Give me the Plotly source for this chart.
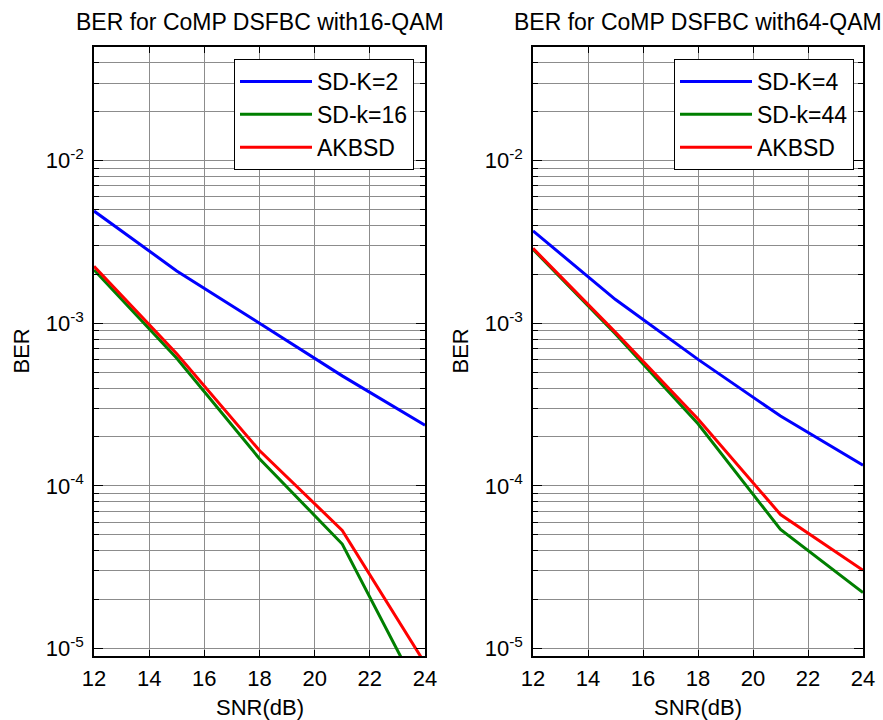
import plotly.graph_objects as go
import numpy as np

snr = [12, 15, 18, 21, 24]

# 16-QAM (left)
ber16_sd2 = [4.9e-3, 2.1e-3, 1.0e-3, 4.75e-4, 2.36e-4]
ber16_sd16 = [2.13e-3, 6.1e-4, 1.47e-4, 4.39e-5, 4.6e-6]
ber16_akbsd = [2.24e-3, 6.5e-4, 1.65e-4, 5.33e-5, 8.1e-6]

# 64-QAM (right)
ber64_sd4 = [3.70e-3, 1.40e-3, 6.0e-4, 2.69e-4, 1.34e-4]
ber64_sd44 = [2.85e-3, 8.6e-4, 2.41e-4, 5.4e-5, 2.21e-5]
ber64_akbsd = [2.89e-3, 8.8e-4, 2.58e-4, 6.67e-5, 3.03e-5]

names_left = ["SD-K=2", "SD-k=16", "AKBSD"]
names_right = ["SD-K=4", "SD-k=44", "AKBSD"]
titles = ["BER for CoMP DSFBC with16-QAM", "BER for CoMP DSFBC with64-QAM"]
x_ticks = [12, 14, 16, 18, 20, 22, 24]
y_major = [1e-5, 1e-4, 1e-3, 1e-2]
y_major_text = ["10<sup>-5</sup>", "10<sup>-4</sup>", "10<sup>-3</sup>", "10<sup>-2</sup>"]
y_minor = [m * 10.0 ** e for e in range(-6, -1) for m in range(2, 10)]

colors = ["#0000FF", "#007F00", "#FF0000"]
FONT = "Liberation Sans, Arial, sans-serif"

fig = go.Figure()

left_series = [ber16_sd2, ber16_sd16, ber16_akbsd]
right_series = [ber64_sd4, ber64_sd44, ber64_akbsd]

for ys, nm, c in zip(left_series, names_left, colors):
    fig.add_trace(go.Scatter(x=snr, y=ys, mode="lines", name=nm,
                             line=dict(color=c, width=3),
                             xaxis="x", yaxis="y", legend="legend"))
for ys, nm, c in zip(right_series, names_right, colors):
    fig.add_trace(go.Scatter(x=snr, y=ys, mode="lines", name=nm,
                             line=dict(color=c, width=3),
                             xaxis="x2", yaxis="y2", legend="legend2"))

W, H = 883, 720
xd1 = [94 / W, 425 / W]
xd2 = [533 / W, 863 / W]
yd = [(H - 656) / H, (H - 47) / H]

grid_col = "#8c8c8c"

def xaxis(domain, anchor):
    return dict(domain=domain, anchor=anchor, range=[12, 24],
                tickmode="array", tickvals=x_ticks,
                ticks="inside", ticklen=6, tickcolor="black", tickwidth=1,
                showline=True, linecolor="black", linewidth=1.5, mirror="ticks",
                showgrid=True, gridcolor=grid_col, gridwidth=1,
                zeroline=False, automargin=False,
                tickfont=dict(family=FONT, size=22, color="black"),
                ticklabelstandoff=2)

def yaxis(domain, anchor):
    return dict(domain=domain, anchor=anchor, type="log",
                range=[np.log10(9e-6), np.log10(5e-2)],
                tickmode="array", tickvals=y_major, ticktext=y_major_text,
                ticks="inside", ticklen=9, tickcolor="black", tickwidth=1,
                showline=True, linecolor="black", linewidth=1.5, mirror="ticks",
                showgrid=True, gridcolor=grid_col, gridwidth=1,
                zeroline=False, automargin=False,
                minor=dict(tickmode="array", tickvals=y_minor, ticks="inside",
                           ticklen=5, tickcolor="black", showgrid=True,
                           gridcolor=grid_col, gridwidth=1),
                tickfont=dict(family=FONT, size=22, color="black"),
                ticklabelstandoff=4)

legend_common = dict(bgcolor="white", bordercolor="black", borderwidth=1,
                     font=dict(family=FONT, size=23, color="black"),
                     xanchor="right", yanchor="top", itemwidth=72,
                     tracegroupgap=0)

fig.update_layout(
    width=W, height=H,
    margin=dict(l=0, r=0, t=0, b=0),
    paper_bgcolor="white", plot_bgcolor="white",
    showlegend=True,
    xaxis=xaxis(xd1, "y"),
    yaxis=yaxis(yd, "x"),
    xaxis2=xaxis(xd2, "y2"),
    yaxis2=yaxis(yd, "x2"),
    legend=dict(x=414 / W, y=(H - 59) / H, **legend_common),
    legend2=dict(x=854 / W, y=(H - 59) / H, **legend_common),
)

annotations = []
for i, (t, dom) in enumerate(zip(titles, [xd1, xd2])):
    cx = (dom[0] + dom[1]) / 2
    annotations.append(dict(text=t, x=cx, y=1 - 22 / H, xref="paper", yref="paper",
                            xanchor="center", yanchor="middle", showarrow=False,
                            font=dict(family=FONT, size=23, color="black")))
    annotations.append(dict(text="SNR(dB)", x=cx, y=1 - 707 / H, xref="paper", yref="paper",
                            xanchor="center", yanchor="middle", showarrow=False,
                            font=dict(family=FONT, size=22, color="black")))
    bx = 21 if i == 0 else 21 + 439
    annotations.append(dict(text="BER", x=bx / W, y=(yd[0] + yd[1]) / 2, xref="paper",
                            yref="paper", xanchor="center", yanchor="middle",
                            textangle=-90, showarrow=False,
                            font=dict(family=FONT, size=22, color="black")))
fig.update_layout(annotations=annotations)

fig.write_html("out.html")
